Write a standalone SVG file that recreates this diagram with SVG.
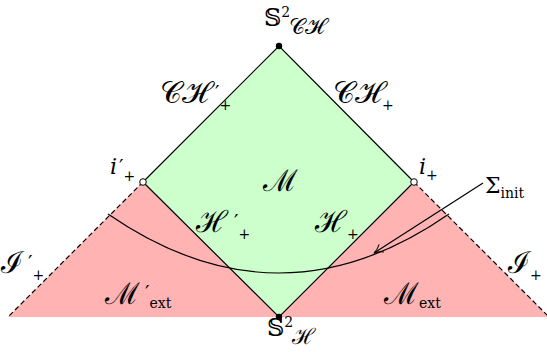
<svg xmlns="http://www.w3.org/2000/svg" width="547" height="352" viewBox="0 0 547 352">
<style>
text{font-family:"DejaVu Serif","Liberation Serif",serif;font-size:20px;fill:#000}
.scr{font-size:30px}
.scs{font-size:22px}
.sub{font-size:14px;font-style:normal}
.pr{font-size:20px;font-style:normal}
.it{font-style:italic}
.edge{stroke:#000;stroke-width:1.2;fill:none}
.dash{stroke:#000;stroke-width:1.2;fill:none;stroke-dasharray:5 3}
</style>
<defs>
<marker id="arr" viewBox="0 0 12 12" refX="10" refY="6" markerWidth="12" markerHeight="12" markerUnits="userSpaceOnUse" orient="auto">
<path d="M1,1.5 Q5,5 10,6 Q5,7 1,10.5" fill="none" stroke="#000" stroke-width="1"/>
</marker>
</defs>
<g id="regions">
<polygon points="143,182 8,317 279,317" fill="#ffb3b3"/>
<polygon points="414,182 279,317 549,317" fill="#ffb3b3"/>
<polygon points="279,46 414,182 279,317 143,182" fill="#ccffcc"/>
</g>
<g id="connectors">
<path class="edge" d="M143,182 L279,46 L414,182"/>
<path class="edge" d="M143,182 L279,317 L414,182"/>
<path class="dash" d="M143,182 L8,317"/>
<path class="dash" d="M414,182 L549,317"/>
<path class="edge" d="M108,214 Q279,332 449,214"/>
<path class="edge" d="M483,183 L374,253" marker-end="url(#arr)"/>
</g>
<g id="node-top"><circle cx="279" cy="46" r="3.2" fill="#000"/>
<text x="264" y="26" style="font-size:24px">𝕊<tspan class="sub" dy="-9">2</tspan><tspan class="scs" dx="-1" dy="17">𝒞ℋ</tspan></text></g>
<g id="node-bottom"><circle cx="279" cy="317" r="3.2" fill="#000"/>
<text x="267" y="336" style="font-size:24px">𝕊<tspan class="sub" dy="-9">2</tspan><tspan class="scs" dx="-1" dy="17">ℋ</tspan></text></g>
<g id="node-ileft"><circle cx="143" cy="182" r="3.3" fill="#fff" stroke="#000" stroke-width="1"/>
<text x="110" y="174" class="it" style="font-size:22px">i<tspan class="pr" dx="2">′</tspan><tspan class="sub" dy="7">+</tspan></text></g>
<g id="node-iright"><circle cx="414" cy="182" r="3.3" fill="#fff" stroke="#000" stroke-width="1"/>
<text x="419" y="174" class="it" style="font-size:22px">i<tspan class="sub" dy="6">+</tspan></text></g>
<g id="label-CHp"><text x="160" y="103"><tspan class="scr">𝒞ℋ</tspan><tspan class="pr" dx="6" dy="-3">′</tspan><tspan class="sub" dy="10">+</tspan></text></g>
<g id="label-CH"><text x="333" y="103"><tspan class="scr">𝒞ℋ</tspan><tspan class="sub" dy="7">+</tspan></text></g>
<g id="label-M"><text x="263" y="191" class="scr">ℳ</text></g>
<g id="label-Hp"><text x="196" y="232"><tspan class="scr">ℋ</tspan><tspan class="pr" dx="6" dy="-3">′</tspan><tspan class="sub" dy="10">+</tspan></text></g>
<g id="label-H"><text x="315" y="232"><tspan class="scr">ℋ</tspan><tspan class="sub" dy="7">+</tspan></text></g>
<g id="label-Sigma"><text x="485" y="193" style="font-size:22px">Σ<tspan class="sub" dy="5">init</tspan></text></g>
<g id="label-Ip"><text x="1" y="273"><tspan class="scr">ℐ</tspan><tspan class="pr" dx="5" dy="-3">′</tspan><tspan class="sub" dy="10">+</tspan></text></g>
<g id="label-I"><text x="508" y="273"><tspan class="scr">ℐ</tspan><tspan class="sub" dy="7">+</tspan></text></g>
<g id="label-Mextp"><text x="105" y="304"><tspan class="scr">ℳ</tspan><tspan class="pr" dx="5" dy="-4">′</tspan><tspan class="sub" dy="8">ext</tspan></text></g>
<g id="label-Mext"><text x="384" y="304"><tspan class="scr">ℳ</tspan><tspan class="sub" dy="4">ext</tspan></text></g>
</svg>
